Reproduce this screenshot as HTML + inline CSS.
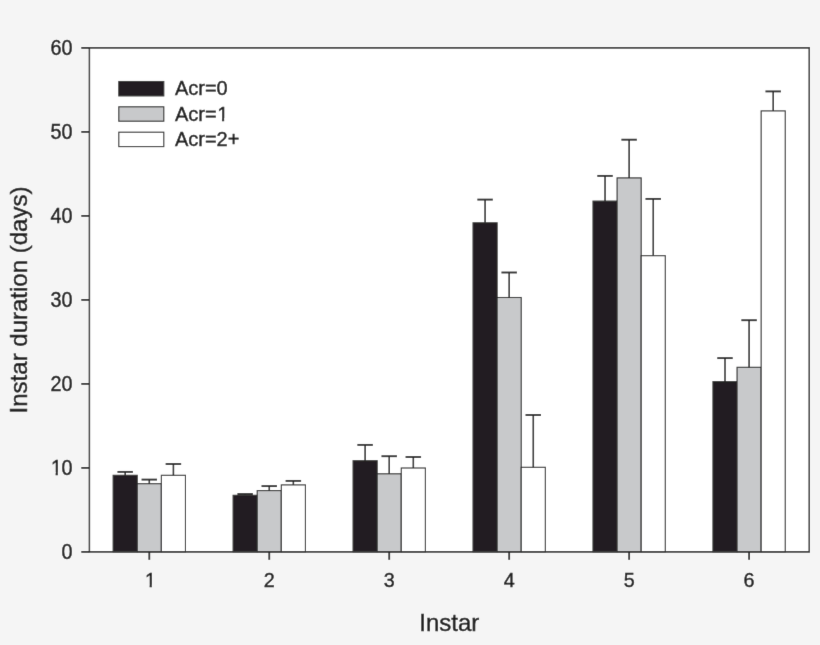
<!DOCTYPE html><html><head><meta charset="utf-8"><style>html,body{margin:0;padding:0;background:#f5f5f5;}svg{display:block;}text{font-family:"Liberation Sans",Arial,sans-serif;fill:#1e1e1e;stroke:#1e1e1e;stroke-width:0.45px;}</style></head><body>
<svg width="820" height="645" viewBox="0 0 820 645">
<defs><filter id="bl" x="0" y="0" width="820" height="645" filterUnits="userSpaceOnUse"><feConvolveMatrix order="3" kernelMatrix="0.00524 0.06192 0.00524 0.06192 0.73137 0.06192 0.00524 0.06192 0.00524" edgeMode="duplicate" preserveAlpha="true"/></filter></defs>
<g filter="url(#bl)">
<rect x="0" y="0" width="820" height="645" fill="#f5f5f5"/>
<rect x="89.40" y="47.90" width="719.80" height="504.00" fill="#ffffff"/>
<rect x="113.15" y="475.30" width="24.10" height="76.60" fill="#231f20" stroke="#2c2c2c" stroke-width="1.1"/>
<rect x="137.25" y="483.70" width="24.10" height="68.20" fill="#c8c9cb" stroke="#2c2c2c" stroke-width="1.1"/>
<rect x="161.35" y="475.30" width="24.10" height="76.60" fill="#ffffff" stroke="#2c2c2c" stroke-width="1.1"/>
<line x1="125.20" y1="475.30" x2="125.20" y2="471.90" stroke="#2c2c2c" stroke-width="1.6"/>
<line x1="117.45" y1="471.90" x2="132.95" y2="471.90" stroke="#2c2c2c" stroke-width="1.9"/>
<line x1="149.30" y1="483.70" x2="149.30" y2="479.60" stroke="#2c2c2c" stroke-width="1.6"/>
<line x1="141.55" y1="479.60" x2="157.05" y2="479.60" stroke="#2c2c2c" stroke-width="1.9"/>
<line x1="173.40" y1="475.30" x2="173.40" y2="464.00" stroke="#2c2c2c" stroke-width="1.6"/>
<line x1="165.65" y1="464.00" x2="181.15" y2="464.00" stroke="#2c2c2c" stroke-width="1.9"/>
<rect x="233.11" y="495.30" width="24.10" height="56.60" fill="#231f20" stroke="#2c2c2c" stroke-width="1.1"/>
<rect x="257.21" y="490.60" width="24.10" height="61.30" fill="#c8c9cb" stroke="#2c2c2c" stroke-width="1.1"/>
<rect x="281.31" y="484.90" width="24.10" height="67.00" fill="#ffffff" stroke="#2c2c2c" stroke-width="1.1"/>
<line x1="245.16" y1="495.30" x2="245.16" y2="494.00" stroke="#2c2c2c" stroke-width="1.6"/>
<line x1="237.41" y1="494.00" x2="252.91" y2="494.00" stroke="#2c2c2c" stroke-width="1.9"/>
<line x1="269.26" y1="490.60" x2="269.26" y2="486.10" stroke="#2c2c2c" stroke-width="1.6"/>
<line x1="261.51" y1="486.10" x2="277.01" y2="486.10" stroke="#2c2c2c" stroke-width="1.9"/>
<line x1="293.36" y1="484.90" x2="293.36" y2="480.90" stroke="#2c2c2c" stroke-width="1.6"/>
<line x1="285.61" y1="480.90" x2="301.11" y2="480.90" stroke="#2c2c2c" stroke-width="1.9"/>
<rect x="353.07" y="460.70" width="24.10" height="91.20" fill="#231f20" stroke="#2c2c2c" stroke-width="1.1"/>
<rect x="377.17" y="473.80" width="24.10" height="78.10" fill="#c8c9cb" stroke="#2c2c2c" stroke-width="1.1"/>
<rect x="401.27" y="468.00" width="24.10" height="83.90" fill="#ffffff" stroke="#2c2c2c" stroke-width="1.1"/>
<line x1="365.12" y1="460.70" x2="365.12" y2="444.90" stroke="#2c2c2c" stroke-width="1.6"/>
<line x1="357.37" y1="444.90" x2="372.87" y2="444.90" stroke="#2c2c2c" stroke-width="1.9"/>
<line x1="389.22" y1="473.80" x2="389.22" y2="456.20" stroke="#2c2c2c" stroke-width="1.6"/>
<line x1="381.47" y1="456.20" x2="396.97" y2="456.20" stroke="#2c2c2c" stroke-width="1.9"/>
<line x1="413.32" y1="468.00" x2="413.32" y2="457.00" stroke="#2c2c2c" stroke-width="1.6"/>
<line x1="405.57" y1="457.00" x2="421.07" y2="457.00" stroke="#2c2c2c" stroke-width="1.9"/>
<rect x="473.03" y="222.80" width="24.10" height="329.10" fill="#231f20" stroke="#2c2c2c" stroke-width="1.1"/>
<rect x="497.13" y="297.50" width="24.10" height="254.40" fill="#c8c9cb" stroke="#2c2c2c" stroke-width="1.1"/>
<rect x="521.23" y="467.30" width="24.10" height="84.60" fill="#ffffff" stroke="#2c2c2c" stroke-width="1.1"/>
<line x1="485.08" y1="222.80" x2="485.08" y2="199.60" stroke="#2c2c2c" stroke-width="1.6"/>
<line x1="477.33" y1="199.60" x2="492.83" y2="199.60" stroke="#2c2c2c" stroke-width="1.9"/>
<line x1="509.18" y1="297.50" x2="509.18" y2="272.50" stroke="#2c2c2c" stroke-width="1.6"/>
<line x1="501.43" y1="272.50" x2="516.93" y2="272.50" stroke="#2c2c2c" stroke-width="1.9"/>
<line x1="533.28" y1="467.30" x2="533.28" y2="415.00" stroke="#2c2c2c" stroke-width="1.6"/>
<line x1="525.53" y1="415.00" x2="541.03" y2="415.00" stroke="#2c2c2c" stroke-width="1.9"/>
<rect x="592.99" y="201.10" width="24.10" height="350.80" fill="#231f20" stroke="#2c2c2c" stroke-width="1.1"/>
<rect x="617.09" y="177.90" width="24.10" height="374.00" fill="#c8c9cb" stroke="#2c2c2c" stroke-width="1.1"/>
<rect x="641.19" y="255.70" width="24.10" height="296.20" fill="#ffffff" stroke="#2c2c2c" stroke-width="1.1"/>
<line x1="605.04" y1="201.10" x2="605.04" y2="175.90" stroke="#2c2c2c" stroke-width="1.6"/>
<line x1="597.29" y1="175.90" x2="612.79" y2="175.90" stroke="#2c2c2c" stroke-width="1.9"/>
<line x1="629.14" y1="177.90" x2="629.14" y2="139.70" stroke="#2c2c2c" stroke-width="1.6"/>
<line x1="621.39" y1="139.70" x2="636.89" y2="139.70" stroke="#2c2c2c" stroke-width="1.9"/>
<line x1="653.24" y1="255.70" x2="653.24" y2="198.90" stroke="#2c2c2c" stroke-width="1.6"/>
<line x1="645.49" y1="198.90" x2="660.99" y2="198.90" stroke="#2c2c2c" stroke-width="1.9"/>
<rect x="712.95" y="381.60" width="24.10" height="170.30" fill="#231f20" stroke="#2c2c2c" stroke-width="1.1"/>
<rect x="737.05" y="367.30" width="24.10" height="184.60" fill="#c8c9cb" stroke="#2c2c2c" stroke-width="1.1"/>
<rect x="761.15" y="110.90" width="24.10" height="441.00" fill="#ffffff" stroke="#2c2c2c" stroke-width="1.1"/>
<line x1="725.00" y1="381.60" x2="725.00" y2="358.10" stroke="#2c2c2c" stroke-width="1.6"/>
<line x1="717.25" y1="358.10" x2="732.75" y2="358.10" stroke="#2c2c2c" stroke-width="1.9"/>
<line x1="749.10" y1="367.30" x2="749.10" y2="320.20" stroke="#2c2c2c" stroke-width="1.6"/>
<line x1="741.35" y1="320.20" x2="756.85" y2="320.20" stroke="#2c2c2c" stroke-width="1.9"/>
<line x1="773.20" y1="110.90" x2="773.20" y2="91.40" stroke="#2c2c2c" stroke-width="1.6"/>
<line x1="765.45" y1="91.40" x2="780.95" y2="91.40" stroke="#2c2c2c" stroke-width="1.9"/>
<path d="M88.65 47.90H809.95 M88.65 551.90H809.95" stroke="#3a3a3a" stroke-width="1.9" fill="none"/>
<path d="M89.40 47.90V551.90 M809.20 47.90V551.90" stroke="#3a3a3a" stroke-width="1.5" fill="none"/>
<line x1="81.3" y1="551.90" x2="89.40" y2="551.90" stroke="#2c2c2c" stroke-width="1.8"/>
<g transform="translate(72.4 558.85) scale(0.96 1.035)"><text x="0" y="0" font-size="20.6" text-anchor="end">0</text></g>
<line x1="81.3" y1="467.90" x2="89.40" y2="467.90" stroke="#2c2c2c" stroke-width="1.8"/>
<g transform="translate(72.4 474.85) scale(0.96 1.035)"><text x="-22.992" y="0" font-size="20.6"><tspan dx="0.7">1</tspan><tspan dx="-0.612">0</tspan></text><rect x="-22.09" y="-2.50" width="4.60" height="4.30" fill="#f5f5f5"/><rect x="-15.19" y="-2.50" width="4.40" height="4.30" fill="#f5f5f5"/></g>
<line x1="81.3" y1="383.90" x2="89.40" y2="383.90" stroke="#2c2c2c" stroke-width="1.8"/>
<g transform="translate(72.4 390.85) scale(0.96 1.035)"><text x="0" y="0" font-size="20.6" text-anchor="end">20</text></g>
<line x1="81.3" y1="299.90" x2="89.40" y2="299.90" stroke="#2c2c2c" stroke-width="1.8"/>
<g transform="translate(72.4 306.85) scale(0.96 1.035)"><text x="0" y="0" font-size="20.6" text-anchor="end">30</text></g>
<line x1="81.3" y1="215.90" x2="89.40" y2="215.90" stroke="#2c2c2c" stroke-width="1.8"/>
<g transform="translate(72.4 222.85) scale(0.96 1.035)"><text x="0" y="0" font-size="20.6" text-anchor="end">40</text></g>
<line x1="81.3" y1="131.90" x2="89.40" y2="131.90" stroke="#2c2c2c" stroke-width="1.8"/>
<g transform="translate(72.4 138.85) scale(0.96 1.035)"><text x="0" y="0" font-size="20.6" text-anchor="end">50</text></g>
<line x1="81.3" y1="47.90" x2="89.40" y2="47.90" stroke="#2c2c2c" stroke-width="1.8"/>
<g transform="translate(72.4 54.85) scale(0.96 1.035)"><text x="0" y="0" font-size="20.6" text-anchor="end">60</text></g>
<line x1="149.30" y1="551.90" x2="149.30" y2="559.8" stroke="#2c2c2c" stroke-width="1.8"/>
<g transform="translate(149.30 587.3) scale(0.96 1)"><text x="-4.479" y="0" font-size="20.6">1</text><rect x="-4.28" y="-2.50" width="4.60" height="4.30" fill="#f5f5f5"/><rect x="2.62" y="-2.50" width="4.40" height="4.30" fill="#f5f5f5"/></g>
<line x1="269.26" y1="551.90" x2="269.26" y2="559.8" stroke="#2c2c2c" stroke-width="1.8"/>
<g transform="translate(269.26 587.3) scale(0.96 1)"><text x="0" y="0" font-size="20.6" text-anchor="middle">2</text></g>
<line x1="389.22" y1="551.90" x2="389.22" y2="559.8" stroke="#2c2c2c" stroke-width="1.8"/>
<g transform="translate(389.22 587.3) scale(0.96 1)"><text x="0" y="0" font-size="20.6" text-anchor="middle">3</text></g>
<line x1="509.18" y1="551.90" x2="509.18" y2="559.8" stroke="#2c2c2c" stroke-width="1.8"/>
<g transform="translate(509.18 587.3) scale(0.96 1)"><text x="0" y="0" font-size="20.6" text-anchor="middle">4</text></g>
<line x1="629.14" y1="551.90" x2="629.14" y2="559.8" stroke="#2c2c2c" stroke-width="1.8"/>
<g transform="translate(629.14 587.3) scale(0.96 1)"><text x="0" y="0" font-size="20.6" text-anchor="middle">5</text></g>
<line x1="749.10" y1="551.90" x2="749.10" y2="559.8" stroke="#2c2c2c" stroke-width="1.8"/>
<g transform="translate(749.10 587.3) scale(0.96 1)"><text x="0" y="0" font-size="20.6" text-anchor="middle">6</text></g>
<rect x="118.8" y="81.50" width="45" height="14.4" fill="#231f20" stroke="#2c2c2c" stroke-width="1.1"/>
<text x="174.9" y="95.40" font-size="20">Acr=0</text>
<rect x="118.8" y="106.80" width="45" height="14.4" fill="#c8c9cb" stroke="#2c2c2c" stroke-width="1.1"/>
<text x="174.9" y="120.70" font-size="20">Acr=<tspan dx="0.7">1</tspan></text>
<rect x="118.8" y="132.20" width="45" height="14.4" fill="#ffffff" stroke="#2c2c2c" stroke-width="1.1"/>
<text x="174.9" y="146.10" font-size="20">Acr=2+</text>
<text x="449.3" y="631" font-size="24" text-anchor="middle">Instar</text>
<text transform="translate(27.2 300.0) rotate(-90)" x="0" y="0" font-size="24" text-anchor="middle">Instar duration (days)</text>
<rect x="217.47" y="118.27" width="4.47" height="4.17" fill="#ffffff"/>
<rect x="224.17" y="118.27" width="4.27" height="4.17" fill="#ffffff"/>
</g>
</svg></body></html>
